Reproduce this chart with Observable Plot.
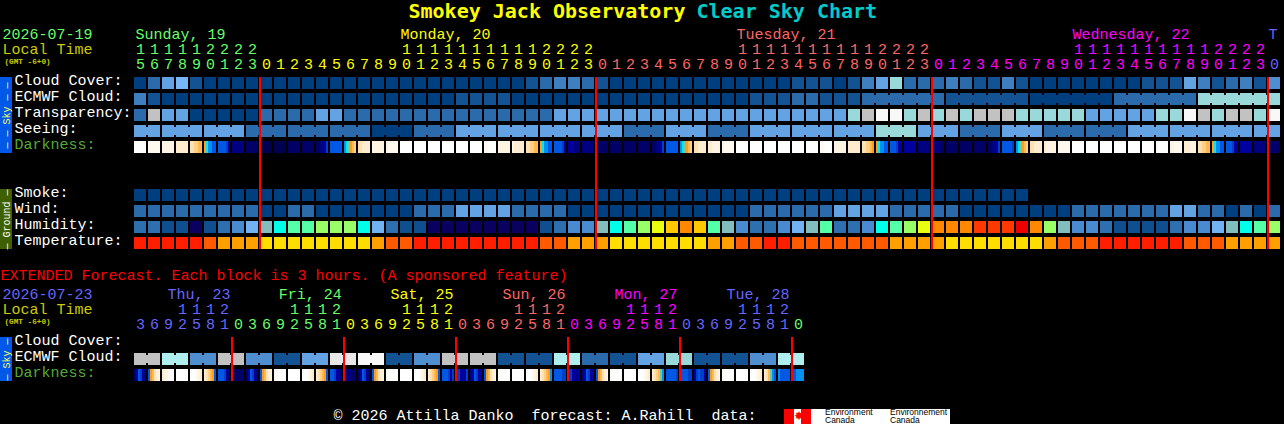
<!DOCTYPE html>
<html><head><meta charset="utf-8">
<script src="https://cdn.jsdelivr.net/npm/d3@7"></script>
<script src="https://cdn.jsdelivr.net/npm/@observablehq/plot@0.6"></script>
<style>
html,body{margin:0;background:#000;width:1284px;height:424px;overflow:hidden}
#wrap{position:relative;width:1284px;height:424px;background:#000}
#wrap svg{display:block}
#logo{position:absolute;left:784px;top:409px;width:166px;height:15px;background:#fff;font-family:"Liberation Sans",sans-serif;font-size:8.5px;line-height:7.5px;color:#000}
#logo .r{position:absolute;top:0;height:15px;background:#f00}
#logo .leaf{position:absolute;left:10px;top:1px;width:7px;text-align:center;color:#f00;font:12px/13px "DejaVu Sans"}
#logo .t{position:absolute;top:0;white-space:pre}
</style></head><body><div id="wrap">
<div id="logo"><div class="r" style="left:0;width:10px"></div><div class="leaf">✸</div><div class="r" style="left:17px;width:10px"></div><div class="t" style="left:41px">Environment
Canada</div><div class="t" style="left:106px">Environnement
Canada</div></div>
</div>
<script>
// ---------- labels ----------
const skyRows = ["Cloud Cover:","ECMWF Cloud:","Transparency:","Seeing:","Darkness:"];
const groundRows = ["Smoke:","Wind:","Humidity:","Temperature:"];
const extRows = ["Cloud Cover:","ECMWF Cloud:","Darkness:"];
const hours = [15,16,17,18,19,20,21,22,23,0,1,2,3,4,5,6,7,8,9,10,11,12,13,14,15,16,17,18,19,20,21,22,23,0,1,2,3,4,5,6,7,8,9,10,11,12,13,14,15,16,17,18,19,20,21,22,23,0,1,2,3,4,5,6,7,8,9,10,11,12,13,14,15,16,17,18,19,20,21,22,23,0];
const extHours = [3,6,9,12,15,18,21,0,3,6,9,12,15,18,21,0,3,6,9,12,15,18,21,0,3,6,9,12,15,18,21,0,3,6,9,12,15,18,21,0,3,6,9,12,15,18,21,0];
const dayColors = ["#66ff66","#ffff00","#ff6666","#ff00ff","#6666ff"];
const midnights = [9,33,57,81];
const extDayColors = ["#6666ff","#66ff66","#ffff00","#ff6666","#ff00ff","#6666ff","#66ff66"];
const extMidnights = [7,15,23,31,39,47];
const dayNames = ["Sunday, 19","Monday, 20","Tuesday, 21","Wednesday, 22","T"];
const dayNameCols = [0.07,19,43,67,81];
const extDayNames = ["Thu, 23","Fri, 24","Sat, 25","Sun, 26","Mon, 27","Tue, 28"];
const extDayNameCols = [2.36,10.3,18.29,26.29,34.29,42.29];

// ---------- palettes ----------
const cloudPalette = ["#003f7f","#135393","#2c6bab","#3f7fbf","#4f8fcf","#63a3e3","#77b7f7","#99d9d9","#c2c2c2","#f8f8f8","#aeeeee","#e8e8e8"];
const humidityPalette = ["#0a0060","#0f4f8f","#2e6fb0","#4a8ad0","#72b2f2","#82bebe","#00ffe8","#55ffa8","#99ff66","#e8ff10","#ffc800","#ff8800","#ff3800","#ee0000"];
const tempPalette = ["#ff1e00","#ff5a00","#ffa000","#ffdd00"];
const darkPalette = {"0":"#ffffff","1":"#fff9f0","2":"#fff3e2","3":"#ffecd0","4":"#ffe0b0","5":"#ffcf88","6":"#ffb850","7":"#ff9c20","8":"#70c8a0","9":"#00e8ff",a:"#0090f0",b:"#0058e4",c:"#0040c8",d:"#0000a0",e:"#000080",f:"#000066",g:"#000050"};

// ---------- main forecast (one value per hour) ----------
const cloudCover = [0,2,5,6,1,0,0,0,0,0,0,0,0,0,0,0,0,0,0,0,0,0,0,0,0,0,0,0,1,2,3,3,2,1,0,0,0,0,0,0,0,0,0,0,0,0,0,1,1,1,0,1,3,5,7,2,2,2,3,2,1,1,3,1,0,0,0,0,0,0,0,0,1,1,1,5,3,1,2,3,1,4];
const ecmwfCloud = [3,1,0,0,0,0,0,0,0,0,0,0,0,0,0,0,0,0,0,0,0,0,0,1,1,1,1,0,0,0,0,0,0,0,0,0,0,0,0,0,0,0,0,0,1,1,1,2,2,1,1,1,2,2,2,2,2,2,1,1,1,1,1,1,0,0,0,0,0,0,2,2,2,2,2,2,7,7,7,7,7,7];
const ecmwfBlocks = [0,1,2,3,4,5,6,7,8,9,10,11,12,13,14,15,16,17,18,19,20,21,22,23,24,25,26,27,28,29,30,31,32,33,34,35,36,37,38,39,40,41,42,43,44,45,46,47,48,49,50,51,52,58,64,70,76];
const transparency = [2,8,5,5,0,0,0,0,0,2,2,2,2,5,5,2,2,2,2,2,2,2,2,2,2,2,2,2,2,2,5,5,5,5,5,5,5,5,5,5,5,5,5,5,5,5,5,5,5,5,5,7,8,9,9,7,8,7,8,7,8,8,8,7,7,7,7,7,5,5,5,5,5,7,7,9,8,7,8,8,7,9];
const seeing = [5,5,5,5,5,5,5,5,2,2,2,2,2,2,2,2,2,0,0,0,2,2,2,5,5,5,5,5,5,5,5,5,5,5,5,2,2,2,5,5,5,2,2,2,5,5,5,5,5,5,5,5,5,7,7,7,5,5,5,2,2,2,5,5,5,2,2,2,2,2,2,5,5,5,5,5,5,5,5,5,5,5];
const seeingBlocks = [0,2,5,8,11,14,17,20,23,26,29,32,35,38,41,44,47,50,53,56,59,62,65,68,71,74,77,80];
const darkness = ["000000","111111","222222","333333","445566","79aabb","bbbbcd","eeeeee","ffffff","gggggg","gggggg","ffffff","ffffff","ffeedc","bbbbbb","a98765","443333","222222","211111","000000","000000","000000","000000","000000",
"000000","110000","222222","233333","445566","79aabb","bbbbcd","dddeee","eeeeee","ffffff","ffffff","ffffff","ffffff","ffeedc","bbbbbb","a98765","443333","332222","211111","000000","000000","000000","000000","000000",
"000000","110000","222222","333333","445567","79aabb","bbbcdd","dddddd","eeeeee","eeeeff","ffffff","ffffff","ffffff","ffeedc","bbbbbc","a98765","443333","322222","211111","000000","000000","000000","000000","000000","000000","100000",
"221111","333222","445566","79aabb","bbbcdd","dddddd","eeeeee","ffffff"];
const smoke = [0,0,0,0,0,0,0,0,0,0,0,0,0,0,0,0,0,0,0,0,0,0,0,0,0,0,0,0,0,0,0,0,0,0,0,0,0,0,0,0,0,0,0,0,0,0,0,0,0,0,0,0,0,0,0,0,0,0,0,0,0,0,0,0];
const wind = [2,2,2,2,2,2,2,2,2,0,0,2,2,0,0,0,0,0,0,0,2,2,2,5,5,5,5,2,2,2,2,0,0,0,0,0,0,0,0,0,0,0,0,0,2,2,2,2,2,2,5,5,5,5,2,2,2,2,2,0,0,0,0,0,0,0,0,2,2,2,2,2,2,2,5,5,2,2,0,2,0,2];
const humidity = [2,2,1,1,0,1,2,3,4,5,6,7,7,8,8,8,6,4,2,1,1,0,0,0,0,0,0,0,0,1,2,3,3,5,6,7,8,9,10,11,10,7,5,3,2,2,3,4,5,7,2,2,3,6,7,8,9,11,11,11,12,12,12,13,11,8,5,3,3,2,1,1,1,1,2,3,3,4,5,6,7,8];
const temperature = [0,0,0,0,0,1,2,2,2,3,3,3,3,3,3,3,3,2,1,1,0,0,0,0,0,0,0,0,0,1,1,2,2,2,3,3,3,3,3,3,3,2,2,1,1,0,0,1,1,1,1,1,1,1,2,2,2,2,3,3,3,3,3,3,3,2,1,1,1,0,0,0,0,0,0,1,1,1,2,2,2,2];

// ---------- extended forecast (one value per 3 hours) ----------
const extCloud = [8,8,10,10,4,4,8,8,4,4,1,1,5,5,11,11,9,9,1,1,4,4,8,8,8,8,1,1,1,1,10,10,2,2,1,1,5,5,7,7,1,1,1,1,4,4,10,10];
const extBlocks = [0,2,4,6,8,10,12,14,16,18,20,22,24,26,28,30,32,34,36,38,40,42,44,46];
const extDarkness = ["fdbcde","b76432","322100","000000","000123","34567b","bbbcde","ffffff","fdbcde","b76432","110000","000000","000123","34567b","bbcdde","eeeeff","fdbcde","b76432","100000","000000","000123","34567b","bbbcdc","ccdddc","edbcdd","b76432","100000","000000","000123","34567a","bbbbcc","ccdded","edbcdd","b76432","100000","000000","000123","34568a","bbbbbc","bbbbcc","dcbccd","b76432","100000","000000","000123","3468ab","abbbbb","bbaaaa"];

// ---------- helpers ----------
const mono = '"Liberation Mono",monospace';
const titleFont = '"DejaVu Sans Mono",monospace';
const cellW = 12/14, sideCol = (6-134)/14;
const cells = (vals,row,pal)=>vals.map((v,i)=>({i,row,fill:pal[v]}));
const strips = (vals,row)=>vals.flatMap((s,i)=>Array.from(s,(c,j)=>({i:i+j*cellW/6,w:cellW/6,row,fill:darkPalette[c]})));
const bridges = (vals,starts,row,pal)=>vals.slice(1).map((v,k)=>({i:k+1,row,fill:pal[v]})).filter(d=>!starts.includes(d.i));
const cellMark = data=>Plot.barX(data,{x1:d=>d.i,x2:d=>d.i+cellW,y:d=>d.row,fill:d=>d.fill,insetTop:2,insetBottom:2,shapeRendering:"crispEdges"});
const stripMark = data=>Plot.barX(data,{x1:d=>d.i,x2:d=>d.i+d.w,y:d=>d.row,fill:d=>d.fill,insetTop:2,insetBottom:2,shapeRendering:"crispEdges"});
const bridgeMark = data=>Plot.barX(data,{x1:d=>d.i-2/14,x2:d=>d.i,y:d=>d.row,fill:d=>d.fill,insetTop:4,insetBottom:4,shapeRendering:"crispEdges"});
const label = (t,x,y,fill,size=15,weight="normal",font=mono)=>Plot.text([t],{text:d=>d,frameAnchor:"top-left",textAnchor:"start",lineAnchor:"middle",dx:x,dy:y,fill,fontSize:size,fontWeight:weight,fontFamily:font});
const rowLabel = (rows,fillOf)=>Plot.text(rows,{y:d=>d,text:d=>d,frameAnchor:"left",textAnchor:"start",dx:14,dy:-3,fill:fillOf,fontSize:15});
const digits = (vals,pick,y,colorOf)=>Plot.text(vals.map((h,i)=>({i,s:pick(h),c:colorOf(i)})).filter(d=>d.s!==""),{x:d=>d.i+6/14,text:d=>d.s,frameAnchor:"top",lineAnchor:"middle",dy:y,fill:d=>d.c,fontSize:15});
const tens = h=>h>=10?String(Math.floor(h/10)):"";
const ones = h=>String(h%10);
const dayLabels = (names,cols,colors,y)=>Plot.text(names.map((n,k)=>({n,c:cols[k],col:colors[k]})),{x:d=>d.c,text:d=>d.n,frameAnchor:"top",textAnchor:"start",lineAnchor:"middle",dy:y,fill:d=>d.col,fontSize:15});
const side = (rows,mid,dy,fill,color,txt)=>[
  Plot.ruleX([sideCol],{y1:()=>rows[0],y2:()=>rows[rows.length-1],stroke:fill,strokeWidth:12,insetTop:2,insetBottom:2,dx:-0.5,shapeRendering:"crispEdges"}),
  Plot.text([txt],{x:()=>sideCol,y:()=>mid,text:d=>d,rotate:-90,dy,fill:color,fontSize:10})
];
const colorOfHour = i=>dayColors[d3.bisectRight(midnights,i)];
const colorOfExt = i=>extDayColors[d3.bisectRight(extMidnights,i)];

// ---------- main chart ----------
const mainRows = [...skyRows,"gap1","gap2",...groundRows];
const main = Plot.plot({
  width:1284,height:262,margin:0,
  style:{background:"#000",fontFamily:mono},
  x:{axis:null,domain:[0,82],range:[134,1282]},
  y:{axis:null,type:"band",domain:mainRows,range:[75,251],padding:0},
  color:{type:"identity"},
  marks:[
    label("Smokey Jack Observatory",408,11,"#ffff00",20,"bold",titleFont),
    label("Clear Sky Chart",696,11,"#00cccc",20,"bold",titleFont),
    label("2026-07-19",2,34,"#66ff66"),
    label("Local Time",2,49,"#cccc00"),
    label("(GMT -6+0)",4,61,"#cccc00",7.7,"bold"),
    dayLabels(dayNames,dayNameCols,dayColors,34),
    digits(hours,tens,49,colorOfHour),
    digits(hours,ones,64,colorOfHour),
    ...side(skyRows,"Transparency:",0,"#0058e8","#ffff55","— — Sky — —"),
    ...side(groundRows,"Humidity:",-8,"#3f6000","#ffffff","— Ground —"),
    rowLabel(skyRows.slice(0,4),"#ffffff"),
    rowLabel(["Darkness:"],"#55aa33"),
    rowLabel(groundRows,"#ffffff"),
    cellMark(cells(cloudCover,"Cloud Cover:",cloudPalette)),
    cellMark(cells(ecmwfCloud,"ECMWF Cloud:",cloudPalette)),
    bridgeMark(bridges(ecmwfCloud,ecmwfBlocks,"ECMWF Cloud:",cloudPalette)),
    cellMark(cells(transparency,"Transparency:",cloudPalette)),
    cellMark(cells(seeing,"Seeing:",cloudPalette)),
    bridgeMark(bridges(seeing,seeingBlocks,"Seeing:",cloudPalette)),
    stripMark(strips(darkness,"Darkness:")),
    cellMark(cells(smoke,"Smoke:",cloudPalette)),
    cellMark(cells(wind,"Wind:",cloudPalette)),
    cellMark(cells(humidity,"Humidity:",humidityPalette)),
    cellMark(cells(temperature,"Temperature:",tempPalette)),
    Plot.ruleX(midnights,{x:d=>d,y1:()=>"Cloud Cover:",y2:()=>"Temperature:",stroke:"#ff0000",strokeWidth:2,insetTop:2,insetBottom:2,dx:-0.5,shapeRendering:"crispEdges"})
  ]
});

// ---------- extended chart + footer ----------
const ext = Plot.plot({
  width:1284,height:162,margin:0,
  style:{background:"#000",fontFamily:mono},
  x:{axis:null,domain:[0,82],range:[134,1282]},
  y:{axis:null,type:"band",domain:extRows,range:[73,121],padding:0},
  color:{type:"identity"},
  marks:[
    label("EXTENDED Forecast. Each block is 3 hours. (A sponsored feature)",0,13,"#ff0000"),
    label("2026-07-23",2,32,"#6666ff"),
    label("Local Time",2,47,"#cccc00"),
    label("(GMT -6+0)",4,59,"#cccc00",7.7,"bold"),
    dayLabels(extDayNames,extDayNameCols,extDayColors,32),
    digits(extHours,tens,47,colorOfExt),
    digits(extHours,ones,62,colorOfExt),
    ...side(extRows,"ECMWF Cloud:",0,"#0058e8","#ffff55","— Sky —"),
    rowLabel(extRows.slice(0,2),"#ffffff"),
    rowLabel(["Darkness:"],"#55aa33"),
    cellMark(cells(extCloud,"ECMWF Cloud:",cloudPalette)),
    bridgeMark(bridges(extCloud,extBlocks,"ECMWF Cloud:",cloudPalette)),
    stripMark(strips(extDarkness,"Darkness:")),
    Plot.ruleX(extMidnights,{x:d=>d,y1:()=>"Cloud Cover:",y2:()=>"Darkness:",stroke:"#ff0000",strokeWidth:2,insetTop:2,insetBottom:2,dx:-0.5,shapeRendering:"crispEdges"}),
    label("© 2026 Attilla Danko  forecast: A.Rahill  data:",333,153,"#ffffff")
  ]
});
const wrap=document.getElementById("wrap");
wrap.insertBefore(ext,wrap.firstChild);
wrap.insertBefore(main,ext);
</script></body></html>
